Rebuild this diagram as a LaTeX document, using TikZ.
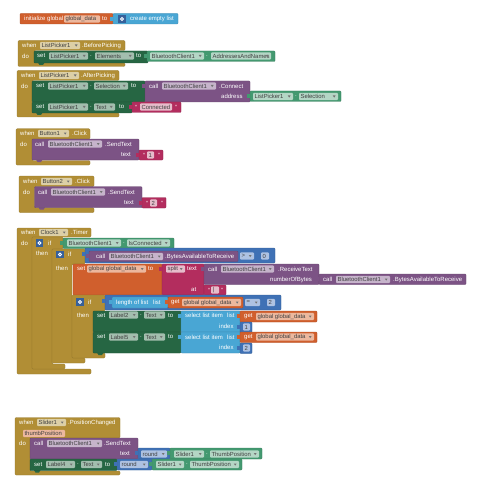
\documentclass[tikz,border=0pt]{standalone}
\usepackage{fontspec}
\setmainfont{Liberation Sans}
\definecolor{gold}{HTML}{B18E35}
\definecolor{goldf}{HTML}{DCCFA6}
\definecolor{pur}{HTML}{7C5385}
\definecolor{purf}{HTML}{C6B4CB}
\definecolor{dgr}{HTML}{266643}
\definecolor{dgrf}{HTML}{A3BEAE}
\definecolor{mgr}{HTML}{439970}
\definecolor{mgrf}{HTML}{B4D6C5}
\definecolor{org}{HTML}{D05F2D}
\definecolor{orgf}{HTML}{ECB89E}
\definecolor{pnk}{HTML}{B32D5E}
\definecolor{pnkf}{HTML}{E6BCCB}
\definecolor{blu}{HTML}{3F71B5}
\definecolor{bluf}{HTML}{AEC2E2}
\definecolor{lbl}{HTML}{49A6D4}
\newcounter{nn}
\tikzset{
  lab/.style={anchor=west,inner sep=0pt,text=white,font=\fontsize{6}{7}\selectfont},
  fldtxt/.style={anchor=west,inner sep=0pt,text=black!75,font=\fontsize{5.9}{7}\selectfont},
}
\newcommand\blk[5]{\draw[fill=#1,draw=#1!82!black,line width=.35pt,rounded corners=.8pt] (#2,#3) rectangle (#4,#5);}
\newcommand\tb[3]{\fill[#1] (#2-2.6,#3+2) rectangle (#2+.3,#3+6);}
\newcommand\nt[3]{\fill[#1] (#2+4,#3-.3) -- (#2+5.5,#3+2) -- (#2+9,#3+2) -- (#2+10.5,#3-.3) -- cycle;}
\newcommand\lb[3]{\stepcounter{nn}\node[lab] (t\thenn) at (#1,#2) {#3};}
\newcommand\fn[5]{\stepcounter{nn}\fill[#1,rounded corners=1pt] (#2,#4-3.7) rectangle (#3,#4+3.7);\node[fldtxt] (f\thenn) at (#2+1.4,#4) {#5};}
\newcommand\fd[5]{\fn{#1}{#2}{#3}{#4}{#5}\fill[black!55] (#3-5.2,#4-1) -- (#3-2.4,#4-1) -- (#3-3.8,#4+1.2) -- cycle;}
\newcommand\ic[2]{\fill[blu!85!black] (#1-3.6,#2-3.6) rectangle (#1+3.6,#2+3.6);\draw[white,line width=.8pt] (#1,#2) circle (1.5);}
\newcommand\cblock[8]{%
\draw[fill=gold,draw=gold!85!black,line width=.3pt,rounded corners=1.2pt] (#1,#2) -- (#3,#2) -- (#3,#4) -- (#5,#4) -- (#5,#6) -- (#7,#6) -- (#7,#8) -- (#1,#8) -- cycle;}
\begin{document}
\begin{tikzpicture}[x=1pt,y=-1pt]
\useasboundingbox (0,0) rectangle (481,500);
% initialize
\blk{org}{20}{13.5}{113}{24}
\lb{24}{19}{initialize global}
\fn{orgf}{64}{100}{19}{global\_data}
\lb{102}{19}{to}
\blk{lbl}{113}{13.5}{178}{24}\tb{lbl}{113}{15}
\ic{122}{19}
\lb{130}{19}{create empty list}
% before picking
\cblock{18}{40.5}{125}{50.5}{34}{63}{125}{66.5}
\lb{22}{45.5}{when}
\fd{goldf}{40}{80}{45.5}{ListPicker1}
\lb{82}{45.5}{.BeforePicking}
\lb{22}{56}{do}
\nt{dgr}{34}{63}
\blk{dgr}{34}{51}{148}{63}
\lb{37}{56}{set}
\fd{dgrf}{49}{88}{56}{ListPicker1}
\lb{90}{56}{.}
\fd{dgrf}{95}{134}{56}{Elements}
\lb{136}{56}{to}
\blk{mgr}{147}{51}{275}{61.5}\tb{mgr}{147}{52}
\fd{mgrf}{150}{204}{56}{BluetoothClient1}
\lb{206}{56}{.}
\fd{mgrf}{211}{271}{56}{AddressesAndNames}
% after picking
\cblock{17}{70.5}{119}{80.5}{32}{113}{119}{117}
\lb{21}{75.5}{when}
\fd{goldf}{39}{79}{75.5}{ListPicker1}
\lb{81}{75.5}{.AfterPicking}
\lb{21}{86}{do}
\blk{dgr}{32}{81}{145}{102}
\lb{36}{86}{set}
\fd{dgrf}{48}{88}{86}{ListPicker1}
\lb{90}{86}{.}
\fd{dgrf}{94}{128}{86}{Selection}
\lb{131}{86}{to}
\blk{pur}{145}{81}{250}{102}\tb{pur}{145}{82}
\lb{149}{86}{call}
\fd{purf}{162}{216}{86}{BluetoothClient1}
\lb{219}{86}{.Connect}
\lb{221}{96.5}{address}
\blk{mgr}{250}{91}{341}{101.5}\tb{mgr}{250}{92}
\fd{mgrf}{253}{293}{96.5}{ListPicker1}
\lb{295}{96.5}{.}
\fd{mgrf}{299}{338}{96.5}{Selection}
\nt{dgr}{32}{113}
\blk{dgr}{32}{102}{132}{113}
\lb{36}{107}{set}
\fd{dgrf}{48}{88}{107}{ListPicker1}
\lb{90}{107}{.}
\fd{dgrf}{94}{115}{107}{Text}
\lb{119}{107}{to}
\blk{pnk}{132}{102}{181}{112.5}\tb{pnk}{132}{103}
\lb{135}{107}{“}
\fn{pnkf}{140}{172}{107}{Connected}
\lb{175}{107}{”}
% button1
\cblock{16}{128.7}{90}{139}{32}{160.5}{90}{165}
\lb{20}{133.5}{when}
\fd{goldf}{38}{69}{133.5}{Button1}
\lb{72}{133.5}{.Click}
\lb{20}{144}{do}
\nt{pur}{32}{160}
\blk{pur}{32}{139}{139}{160}
\lb{35}{144}{call}
\fd{purf}{48}{102}{144}{BluetoothClient1}
\lb{105}{144}{.SendText}
\lb{121}{154.5}{text}
\blk{pnk}{139}{150}{163}{160}\tb{pnk}{139}{151}
\lb{143}{155}{“}
\fn{pnkf}{147}{154}{155}{1}
\lb{158}{155}{”}
% button2
\cblock{19}{176}{94}{186.7}{34.5}{207.7}{94}{212.7}
\lb{23}{181.5}{when}
\fd{goldf}{41}{72}{181.5}{Button2}
\lb{75}{181.5}{.Click}
\lb{23}{192}{do}
\nt{pur}{34.5}{207.7}
\blk{pur}{34.5}{186.7}{142}{207.7}
\lb{38}{192}{call}
\fd{purf}{51}{105}{192}{BluetoothClient1}
\lb{108}{192}{.SendText}
\lb{124}{202.5}{text}
\blk{pnk}{142}{197.5}{166}{208}\tb{pnk}{142}{198.5}
\lb{146}{203}{“}
\fn{pnkf}{150}{157}{203}{2}
\lb{161}{203}{”}
% clock
\cblock{17}{228}{91}{237}{32}{369}{91}{374}
\lb{21}{232.5}{when}
\fd{goldf}{39}{68}{232.5}{Clock1}
\lb{71}{232.5}{.Timer}
\lb{21}{243}{do}
\cblock{32}{237}{63}{249}{52}{364}{65}{369}
\ic{39.5}{243}
\lb{48}{243}{if}
\lb{36}{253.5}{then}
\blk{mgr}{63}{238}{174}{248.5}\tb{mgr}{63}{239}
\fd{mgrf}{67}{121}{243}{BluetoothClient1}
\lb{123}{243}{.}
\fd{mgrf}{127}{170}{243}{IsConnected}
\cblock{52}{249}{85}{264}{72}{358}{85}{363}
\ic{60}{254.5}
\lb{68}{254.5}{if}
\lb{56}{268.5}{then}
\blk{blu}{85}{248}{275}{263}\tb{blu}{85}{250}
\blk{pur}{89}{251}{238}{261.5}\tb{pur}{89}{252}
\lb{96}{256.5}{call}
\fd{purf}{109}{163}{256.5}{BluetoothClient1}
\lb{165}{256.5}{.BytesAvailableToReceive}
\fd{bluf}{240}{254}{256}{>}
\fn{bluf}{261}{269}{256}{0}
\blk{org}{73}{264}{162}{295}
\lb{77}{269}{set}
\fd{orgf}{87}{146}{269}{global global\_data}
\lb{148}{269}{to}
\blk{pnk}{162}{264}{204}{295}\tb{pnk}{162}{265}
\blk{pnk}{204}{285}{226}{295}
\fd{pnkf}{166}{185}{269}{split}
\lb{187}{269}{text}
\lb{191}{290}{at}
\lb{208}{290}{“}
\fn{pnkf}{211}{219}{290}{|}
\lb{221}{290}{”}
\blk{pur}{204}{264}{319}{284.5}\tb{pur}{204}{265}
\lb{208}{269}{call}
\fd{purf}{221}{274}{269}{BluetoothClient1}
\lb{278}{269}{.ReceiveText}
\lb{270}{279.5}{numberOfBytes}
\blk{pur}{319}{274}{466}{284.5}\tb{pur}{319}{275}
\lb{323}{279.5}{call}
\fd{purf}{336}{390}{279.5}{BluetoothClient1}
\lb{393}{279.5}{.BytesAvailableToReceive}
\cblock{72}{295}{105}{311}{93}{353}{105}{358}
\ic{80}{302}
\lb{88}{302}{if}
\lb{77}{315}{then}
\blk{blu}{105}{295}{281}{310}\tb{blu}{105}{297}
\blk{lbl}{112}{297}{168}{308}\tb{lbl}{112}{298}
\lb{116}{302.5}{length of list}
\lb{153}{302.5}{list}
\blk{org}{168}{297}{243}{308}\tb{org}{168}{298}
\lb{171}{302.5}{get}
\fd{orgf}{182}{241}{302.5}{global global\_data}
\fd{bluf}{245}{260}{302.5}{=}
\fn{bluf}{267}{275}{302.5}{2}
\blk{dgr}{93}{311}{181}{332}
\lb{97}{315.5}{set}
\fd{dgrf}{109}{138}{315}{Label2}
\lb{140}{315.5}{.}
\fd{dgrf}{144}{165}{315}{Text}
\lb{168}{315.5}{to}
\blk{lbl}{181}{311}{240}{332}\tb{lbl}{181}{312}
\lb{185}{315.5}{select list item}
\lb{227}{315.5}{list}
\lb{219}{326}{index}
\blk{org}{240}{311}{317}{322}\tb{org}{240}{312}
\lb{244}{316.5}{get}
\fd{orgf}{256}{314}{316.5}{global global\_data}
\blk{blu}{240}{322}{252}{332.5}\tb{blu}{240}{323}
\fn{bluf}{243}{250}{327}{1}
\nt{dgr}{93}{353}
\blk{dgr}{93}{332}{181}{353}
\lb{97}{337}{set}
\fd{dgrf}{109}{138}{337}{Label5}
\lb{140}{337}{.}
\fd{dgrf}{144}{165}{337}{Text}
\lb{168}{337}{to}
\blk{lbl}{181}{332}{240}{353}\tb{lbl}{181}{333}
\lb{185}{337}{select list item}
\lb{227}{337}{list}
\lb{219}{347.5}{index}
\blk{org}{240}{332}{317}{342.5}\tb{org}{240}{333}
\lb{244}{337}{get}
\fd{orgf}{256}{314}{337}{global global\_data}
\blk{blu}{240}{343}{252}{353.5}\tb{blu}{240}{344}
\fn{bluf}{243}{250}{348}{2}
% slider
\cblock{15}{417.5}{120}{438}{30}{471}{120}{475}
\lb{19}{422.5}{when}
\fd{goldf}{37}{66}{422.5}{Slider1}
\lb{68}{422.5}{.PositionChanged}
\fn{orgf}{23}{65}{433.5}{thumbPosition}
\lb{19}{443.5}{do}
\blk{pur}{30}{438}{138}{459}
\lb{34}{443.5}{call}
\fd{purf}{47}{102}{443.5}{BluetoothClient1}
\lb{104}{443.5}{.SendText}
\lb{120}{454}{text}
\blk{blu}{138}{448}{170}{459}\tb{blu}{138}{449}
\fd{bluf}{141}{167}{454}{round}
\blk{mgr}{170}{448}{262}{459}\tb{mgr}{170}{449}
\fd{mgrf}{174}{204}{454}{Slider1}
\lb{206}{454}{.}
\fd{mgrf}{210}{259}{454}{ThumbPosition}
\nt{dgr}{30}{470.5}
\blk{dgr}{30}{459}{117}{470.5}
\lb{34}{464.5}{set}
\fd{dgrf}{46}{75}{464.5}{Label4}
\lb{77}{464.5}{.}
\fd{dgrf}{81}{102}{464.5}{Text}
\lb{105}{464.5}{to}
\blk{blu}{117}{459}{152}{470}\tb{blu}{117}{460}
\fd{bluf}{120}{148}{464.5}{round}
\blk{mgr}{152}{459}{242}{470}\tb{mgr}{152}{460}
\fd{mgrf}{156}{184}{464.5}{Slider1}
\lb{186}{464.5}{.}
\fd{mgrf}{190}{239}{464.5}{ThumbPosition}
\end{tikzpicture}
\end{document}
